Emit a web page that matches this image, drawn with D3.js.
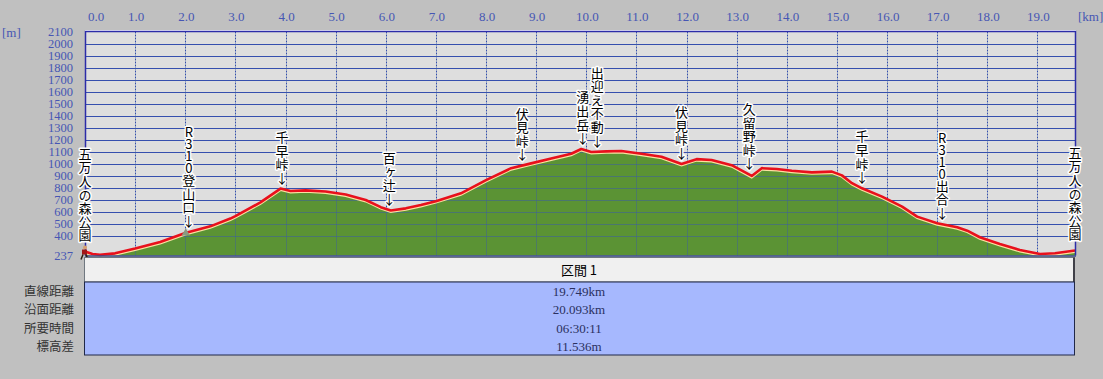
<!DOCTYPE html>
<html>
<head>
<meta charset="utf-8">
<script src="https://cdn.jsdelivr.net/npm/d3@7"></script>
<style>
  body { margin: 0; background: #c0c0c0; }
  svg { display: block; }
  .wp { writing-mode: vertical-rl; text-orientation: upright; }
</style>
</head>
<body>
<svg id="profile" width="1103" height="379"></svg>
<script>
// distance along the route [km] and elevation [m]
const distKm = [0.00, 0.15, 0.30, 0.60, 1.00, 1.50, 2.00, 2.50, 2.90, 3.00, 3.50, 3.90, 4.10, 4.40, 4.80,
    5.20, 5.60, 5.90, 6.10, 6.40, 6.70, 7.00, 7.50, 8.00, 8.50, 8.90, 9.30, 9.70, 9.90, 10.10,
    10.40, 10.70, 11.10, 11.50, 11.90, 12.20, 12.50, 12.90, 13.30, 13.50, 13.80, 14.10, 14.50, 14.90,
    15.10, 15.30, 15.50, 15.90, 16.30, 16.60, 17.00, 17.40, 17.60, 17.85, 18.25, 18.65, 19.05, 19.35, 19.749];
const elevM = [270, 250, 242, 255, 295, 350, 425, 480, 545, 565, 680, 795, 775, 780, 770,
    745, 700, 640, 612, 630, 658, 690, 755, 865, 965, 1005, 1045, 1085, 1125, 1100,
    1105, 1108, 1085, 1060, 1000, 1040, 1033, 990, 900, 965, 958, 944, 930, 936,
    905, 840, 797, 728, 644, 561, 506, 472, 444, 389, 333, 283, 250, 256, 278];

// waypoints shown as vertical labels
const wpNames = ["五万人の森公園", "R310登山口", "千早峠", "百ヶ辻", "伏見峠", "湧出岳", "出迎え不動", "伏見峠", "久留野峠", "千早峠", "R310出合", "五万人の森公園"];
const wpKm = [0.0, 2.07, 3.93, 6.07, 8.72, 9.93, 10.22, 11.9, 13.25, 15.5, 17.1, 19.749];
const wpArrow = [false, true, true, true, true, true, true, true, true, true, true, false];

const xTicks = d3.range(0, 20, 1);
const yTicks = [237].concat(d3.range(400, 2101, 100));

// summary table
const rowLabels = ["直線距離", "沿面距離", "所要時間", "標高差"];
const rowValues = ["19.749km", "20.093km", "06:30:11", "11.536m"];
const sectionTitle = "区間 1";

const svg = d3.select("#profile");
const plotL = 85, plotR = 1075, plotT = 32, plotB = 255.5;

const x = d3.scaleLinear().domain([0, 19.749]).range([plotL, plotR]);
const y = d3.scaleLinear().domain([237, 2100]).range([plotB, plotT]);
const px = v => Math.round(v) + 0.5;

const serif = "'Liberation Serif', 'DejaVu Serif', serif";
const cjk = "'Noto Sans CJK JP', sans-serif";

// plot background
svg.append("rect")
    .attr("x", plotL).attr("y", plotT)
    .attr("width", plotR - plotL).attr("height", plotB - plotT)
    .attr("fill", "#dedede");

// horizontal grid
svg.append("g").selectAll("line")
    .data(yTicks.filter(v => v > 237 && v < 2100))
    .join("line")
    .attr("x1", plotL).attr("x2", plotR)
    .attr("y1", d => px(y(d))).attr("y2", d => px(y(d)))
    .attr("stroke", "#2c3cc0").attr("stroke-width", 1);

// vertical dotted grid
svg.append("g").selectAll("line")
    .data(xTicks.filter(v => v > 0))
    .join("line")
    .attr("x1", d => px(x(d))).attr("x2", d => px(x(d)))
    .attr("y1", plotT).attr("y2", plotB)
    .attr("stroke", "#2c3cc0").attr("stroke-width", 1)
    .attr("stroke-dasharray", "1,2");

// profile
const pts = distKm.map((d, i) => [d, elevM[i]]);
const area = d3.area()
    .x(d => x(d[0]))
    .y0(plotB)
    .y1(d => y(d[1]));
const line = d3.line()
    .x(d => x(d[0]))
    .y(d => y(d[1]));

svg.append("path").datum(pts)
    .attr("d", area)
    .attr("fill", "#5b9334");

// grid shows faintly through the green
svg.append("g").selectAll("line")
    .data(yTicks.filter(v => v > 237 && v < 2100))
    .join("line")
    .attr("x1", plotL).attr("x2", plotR)
    .attr("y1", d => px(y(d))).attr("y2", d => px(y(d)))
    .attr("stroke", "#3d5fa0").attr("stroke-width", 1).attr("opacity", 0.55);
svg.append("g").selectAll("line")
    .data(xTicks.filter(v => v > 0))
    .join("line")
    .attr("x1", d => px(x(d))).attr("x2", d => px(x(d)))
    .attr("y1", plotT).attr("y2", plotB)
    .attr("stroke", "#3d5fa0").attr("stroke-width", 1).attr("opacity", 0.45);

svg.append("path").datum(pts)
    .attr("d", line)
    .attr("fill", "none")
    .attr("stroke", "#fbe0a0").attr("stroke-width", 2)
    .attr("transform", "translate(0,1.5)");
svg.append("path").datum(pts)
    .attr("d", line)
    .attr("fill", "none")
    .attr("stroke", "#e8101c").attr("stroke-width", 2.6)
    .attr("stroke-linejoin", "round");

// frame
svg.append("line").attr("x1", plotL).attr("x2", plotR + 1).attr("y1", plotT - 1.5).attr("y2", plotT - 1.5)
    .attr("stroke", "#ffffff").attr("stroke-width", 1);
svg.append("path")
    .attr("d", `M${plotL + 0.5},${plotB} V${plotT - 0.5} H${plotR + 0.5} V${plotB}`)
    .attr("fill", "none").attr("stroke", "#2c2ca8").attr("stroke-width", 1.5);
svg.append("line").attr("x1", plotL).attr("x2", plotR + 1).attr("y1", plotB + 0.5).attr("y2", plotB + 0.5)
    .attr("stroke", "#3a4a8a").attr("stroke-width", 1.5);

// x tick labels
svg.append("g").selectAll("text")
    .data(xTicks)
    .join("text")
    .attr("x", d => d === 0 ? x(d) + 3 : x(d) + 1)
    .attr("y", 21)
    .attr("text-anchor", d => d === 0 ? "start" : "middle")
    .attr("font-family", serif).attr("font-size", 13)
    .attr("fill", "#4656b4")
    .text(d => d.toFixed(1));
svg.append("text").attr("x", 1078).attr("y", 21)
    .attr("font-family", serif).attr("font-size", 13).attr("fill", "#4656b4")
    .text("[km]");

// y tick labels
svg.append("g").selectAll("text")
    .data(yTicks)
    .join("text")
    .attr("x", 73)
    .attr("y", d => y(d) + 4)
    .attr("text-anchor", "end")
    .attr("font-family", serif).attr("font-size", 12.5)
    .attr("fill", "#4656b4")
    .text(d => d);
svg.append("text").attr("x", 2).attr("y", 37)
    .attr("font-family", serif).attr("font-size", 13).attr("fill", "#4656b4")
    .text("[m]");

// elevation at a given distance (linear between read points)
function elevAt(km) {
    const i = d3.bisectLeft(distKm, km);
    if (i <= 0) return elevM[0];
    if (i >= distKm.length) return elevM[elevM.length - 1];
    const t = (km - distKm[i - 1]) / (distKm[i] - distKm[i - 1]);
    return elevM[i - 1] + t * (elevM[i] - elevM[i - 1]);
}

// small trailhead marker at R310 登山口
svg.append("path")
    .attr("d", d3.symbol(d3.symbolTriangle, 30))
    .attr("transform", `translate(${x(wpKm[1]) - 3},${y(elevAt(wpKm[1])) + 1})`)
    .attr("fill", "#8a9a80");

// start marker (hiker)
const hk = svg.append("g").attr("transform", `translate(${x(0)},${y(elevM[0])})`);
hk.append("circle").attr("cx", 0).attr("cy", -4).attr("r", 2).attr("fill", "#d8a070");
hk.append("rect").attr("x", -3).attr("y", -2).attr("width", 5).attr("height", 5).attr("fill", "#a01818");
hk.append("path").attr("d", "M-2,3 L-4,8 M1,3 L3,8").attr("stroke", "#302010").attr("stroke-width", 1.5);

// waypoint labels, written top to bottom, ending just above the profile
const wpText = svg.append("g").selectAll("text")
    .data(wpNames.map((n, i) => ({ name: n, km: wpKm[i], arrow: wpArrow[i] })))
    .join("text")
    .attr("class", "wp")
    .attr("x", d => x(d.km))
    .attr("y", d => y(elevAt(d.km)) - (d.arrow ? 4 : 9))
    .attr("text-anchor", "end")
    .attr("font-family", cjk).attr("font-size", 13)
    .attr("letter-spacing", 0.6)
    .attr("fill", "#000")
    .attr("stroke", "#ffffff").attr("stroke-width", 3)
    .attr("paint-order", "stroke")
    .attr("stroke-linejoin", "round");
// latin/digit runs sit a little tighter than the kanji
wpText.selectAll("tspan")
    .data(d => (d.name + (d.arrow ? "↓" : "")).match(/[\x00-\x7f]+|[^\x00-\x7f]+/g))
    .join("tspan")
    .attr("letter-spacing", s => /[\x00-\x7f]/.test(s) ? -1 : 0.6)
    .text(s => s);

// summary table
const tblTop = 257.5, hdrH = 24.5, bodyBottom = 355;
svg.append("rect")
    .attr("x", plotL - 0.5).attr("y", tblTop)
    .attr("width", plotR - plotL).attr("height", hdrH)
    .attr("fill", "#f0f0f0").attr("stroke", "#707880").attr("stroke-width", 1);
svg.append("line").attr("x1", plotR - 1).attr("x2", plotR - 1).attr("y1", tblTop).attr("y2", tblTop + hdrH)
    .attr("stroke", "#404048").attr("stroke-width", 2);
svg.append("rect")
    .attr("x", plotL - 0.5).attr("y", tblTop + hdrH)
    .attr("width", plotR - plotL).attr("height", bodyBottom - tblTop - hdrH)
    .attr("fill", "#a6b8fe").attr("stroke", "#202848").attr("stroke-width", 1);

const mid = (plotL + plotR) / 2 - 1;
svg.append("text")
    .attr("x", mid).attr("y", tblTop + 17)
    .attr("text-anchor", "middle")
    .attr("font-family", cjk).attr("font-size", 13).attr("fill", "#000")
    .text(sectionTitle);

const rowY = d3.scalePoint().domain(d3.range(rowLabels.length)).range([296, 351]);
svg.append("g").selectAll("text")
    .data(rowLabels)
    .join("text")
    .attr("x", 74).attr("y", (d, i) => rowY(i))
    .attr("text-anchor", "end")
    .attr("font-family", cjk).attr("font-size", 12.5).attr("fill", "#333")
    .text(d => d);
svg.append("g").selectAll("text")
    .data(rowValues)
    .join("text")
    .attr("x", mid).attr("y", (d, i) => rowY(i))
    .attr("text-anchor", "middle")
    .attr("font-family", serif).attr("font-size", 13).attr("fill", "#2a3060")
    .text(d => d);
</script>
</body>
</html>
